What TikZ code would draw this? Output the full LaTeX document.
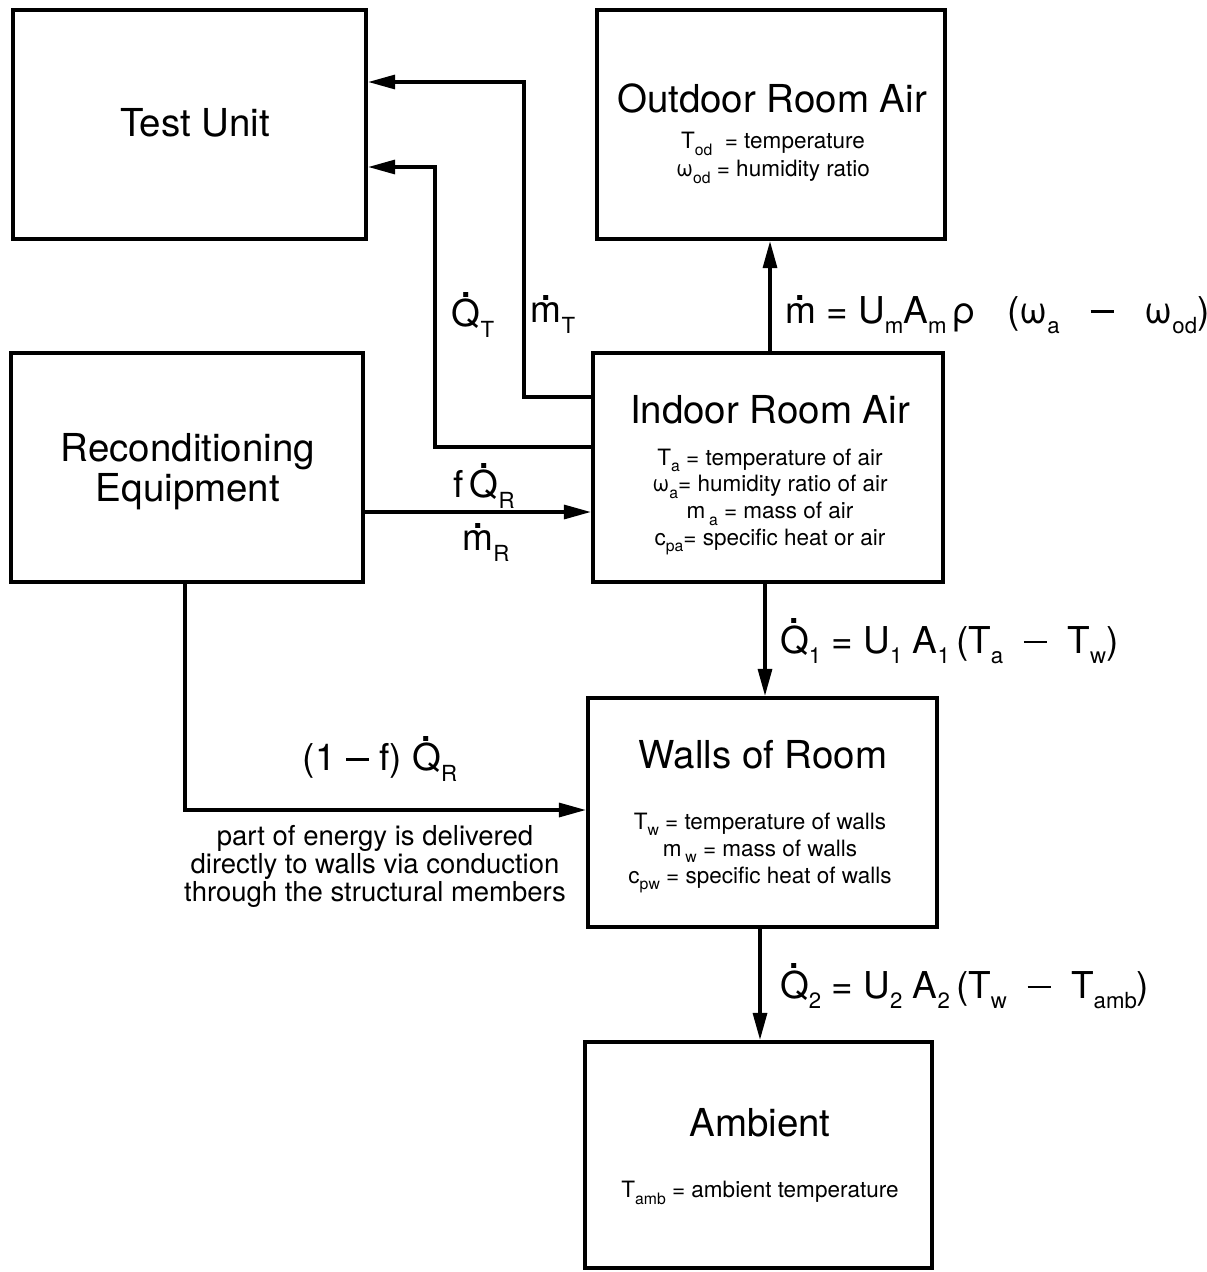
\documentclass[tikz,border=0pt]{standalone}
\usepackage{fontspec}
\setmainfont{TeX Gyre Heros}
\usepackage{graphicx}
\usetikzlibrary{arrows.meta}
\newcommand\sbs[1]{\raisebox{-0.28em}{\scalebox{0.6}{#1}}}
\newcommand\sbt[1]{\raisebox{-0.3em}{\scalebox{0.7}{#1}}}
\newcommand\mns{\raisebox{0.27em}{\rule{0.62em}{0.075em}}}
\newcommand\dQ{\ooalign{Q\cr\hidewidth\raisebox{0.8em}{\scalebox{1.3}{.}}\hidewidth\cr}}
\newcommand\dm{\ooalign{m\cr\hidewidth\raisebox{0.6em}{\scalebox{1.3}{.}}\hidewidth\cr}}
\tikzset{
  box/.style={draw, line width=4.2pt, inner sep=0pt},
  arr/.style={line width=3.2pt, -{Triangle[length=27pt,width=14pt]}},
  ttl/.style={font=\fontsize{38.5}{44}\selectfont, inner sep=0pt},
  sml/.style={font=\fontsize{22.5}{27}\selectfont, align=center, inner sep=0pt},
  eqn/.style={font=\fontsize{37}{42}\selectfont, inner sep=0pt},
  capt/.style={font=\fontsize{27.5}{28}\selectfont, align=center, inner sep=0pt},
}
\begin{document}
\begin{tikzpicture}[x=1pt,y=-1pt]
\useasboundingbox (0,0) rectangle (1207,1272);
% boxes
\node[box, minimum width=353pt, minimum height=229pt] (test) at (189.5,124.5) {};
\node[box, minimum width=348pt, minimum height=229pt] (outdoor) at (771,124.5) {};
\node[box, minimum width=352pt, minimum height=229pt] (recon) at (187,467.5) {};
\node[box, minimum width=350pt, minimum height=229pt] (indoor) at (768,467.5) {};
\node[box, minimum width=349pt, minimum height=229pt] (walls) at (762.5,812.5) {};
\node[box, minimum width=347pt, minimum height=226pt] (ambient) at (758.5,1155) {};
% box texts
\node[ttl] (testT) at (195,123) {Test Unit};
\node[ttl] (outT) at (772,98) {Outdoor Room Air};
\node[sml, font=\fontsize{22.5}{28}\selectfont] (outL) at (773,158) {T\sbt{od}\ \ = temperature\\ω\sbt{od} = humidity ratio};
\node[ttl, align=center, font=\fontsize{38.5}{40}\selectfont] (recT) at (188,472) {Reconditioning\\Equipment};
\node[ttl] (inT) at (770,410) {Indoor Room Air};
\node[sml, font=\fontsize{22.5}{26.7}\selectfont] (inL) at (770,502) {T\sbt{a} = temperature of air\\ω\sbt{a}= humidity ratio of air\\m\,\sbt{a} = mass of air\\c\sbt{pa}= specific heat or air};
\node[ttl] (walT) at (763,755) {Walls of Room};
\node[sml] (walL) at (760,853) {T\sbt{w} = temperature of walls\\m\,\sbt{w} = mass of walls\\c\sbt{pw} = specific heat of walls};
\node[ttl] (ambT) at (760,1123) {Ambient};
\node[sml] (ambL) at (760,1193) {T\sbt{amb}\ = ambient temperature};
% connectors
\coordinate (mTa) at (524,397);
\coordinate (mTb) at (524,82);
\draw[arr] (mTa -| indoor.west) -- (mTa) -- (mTb) -- (mTb -| test.east);
\coordinate (qTa) at (435,447);
\coordinate (qTb) at (435,167);
\draw[arr] (qTa -| indoor.west) -- (qTa) -- (qTb) -- (qTb -| test.east);
\coordinate (mup) at (770,300);
\draw[arr] (mup |- indoor.north) -- (mup |- outdoor.south);
\coordinate (fq) at (470,512);
\draw[arr] (fq -| recon.east) -- (fq -| indoor.west);
\coordinate (q1) at (765,640);
\draw[arr] (q1 |- indoor.south) -- (q1 |- walls.north);
\coordinate (rw) at (185,810);
\draw[arr] (rw |- recon.south) -- (rw) -- (rw -| walls.west);
\coordinate (q2) at (760,985);
\draw[arr] (q2 |- walls.south) -- (q2 |- ambient.north);
% connector labels
\node[eqn] (lQT) at (473,318) {\dQ\sbs{T}};
\node[eqn] (lmT) at (553,318) {\dm\sbs{T}};
\node[eqn, anchor=west] (lm) at (785,315) {\dm\ = U\sbs{m}A\sbs{m}\,ρ\ \ \ (ω\sbs{a}\ \ \ \mns\ \ \ ω\sbs{od})};
\node[eqn] (lfQ) at (484,489) {f\,\dQ\sbs{R}};
\node[eqn] (lmR) at (486,546) {\dm\sbs{R}};
\node[eqn, anchor=west] (lQ1) at (780,645) {\dQ\sbs{1} = U\sbs{1} A\sbs{1}\,(T\sbs{a}\ \ \mns\ \ T\sbs{w})};
\node[eqn] (l1f) at (380,762) {(1 \mns\ f) \dQ\sbs{R}};
\node[capt] (capt) at (375,866) {part of energy is delivered\\directly to walls via conduction\\through the structural members};
\node[eqn, anchor=west] (lQ2) at (780,990) {\dQ\sbs{2} = U\sbs{2} A\sbs{2}\,(T\sbs{w}\ \ \mns\ \ T\sbs{amb})};
\end{tikzpicture}
\end{document}
